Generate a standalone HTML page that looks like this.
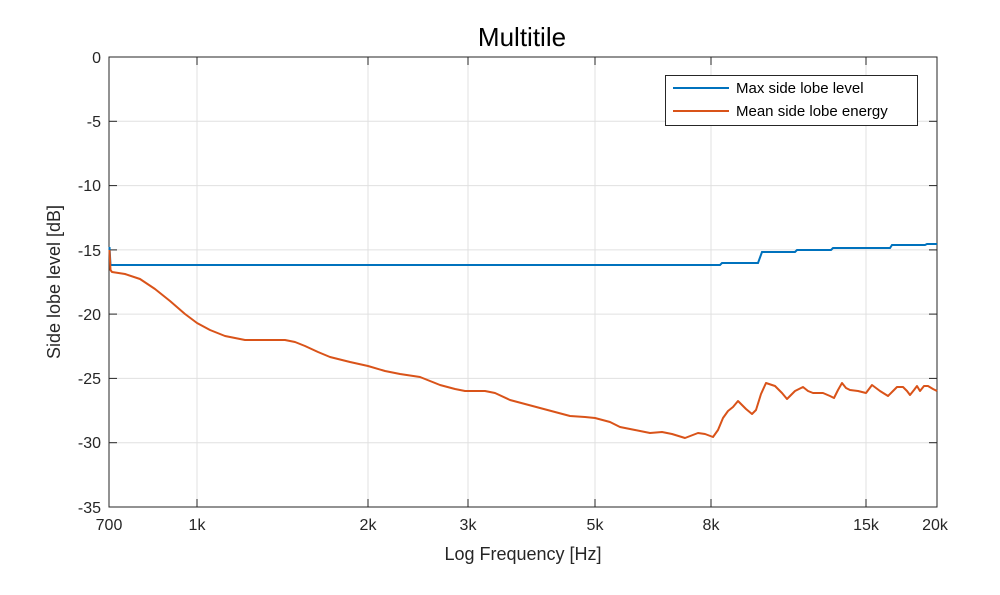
<!DOCTYPE html>
<html><head><meta charset="utf-8"><style>
body{margin:0;background:#fff;}
svg{display:block;font-family:"Liberation Sans",sans-serif;}
</style></head><body>
<svg width="1000" height="595" viewBox="0 0 1000 595">
<rect width="1000" height="595" fill="#fff"/>
<g stroke="#e0e0e0" stroke-width="1">
<line x1="197" y1="57" x2="197" y2="507"/><line x1="368" y1="57" x2="368" y2="507"/>
<line x1="468" y1="57" x2="468" y2="507"/><line x1="595" y1="57" x2="595" y2="507"/>
<line x1="711" y1="57" x2="711" y2="507"/><line x1="866" y1="57" x2="866" y2="507"/>
<line x1="109" y1="121.3" x2="937" y2="121.3"/><line x1="109" y1="185.6" x2="937" y2="185.6"/>
<line x1="109" y1="249.9" x2="937" y2="249.9"/><line x1="109" y1="314.1" x2="937" y2="314.1"/>
<line x1="109" y1="378.4" x2="937" y2="378.4"/><line x1="109" y1="442.7" x2="937" y2="442.7"/>
</g>
<rect x="109" y="57" width="828" height="450" fill="none" stroke="#262626" stroke-width="1"/>
<g stroke="#262626" stroke-width="1">
<line x1="197" y1="507" x2="197" y2="499"/><line x1="368" y1="507" x2="368" y2="499"/><line x1="468" y1="507" x2="468" y2="499"/><line x1="595" y1="507" x2="595" y2="499"/><line x1="711" y1="507" x2="711" y2="499"/><line x1="866" y1="507" x2="866" y2="499"/>
<line x1="197" y1="57" x2="197" y2="65"/><line x1="368" y1="57" x2="368" y2="65"/><line x1="468" y1="57" x2="468" y2="65"/><line x1="595" y1="57" x2="595" y2="65"/><line x1="711" y1="57" x2="711" y2="65"/><line x1="866" y1="57" x2="866" y2="65"/>
<line x1="109" y1="121.3" x2="117" y2="121.3"/><line x1="109" y1="185.6" x2="117" y2="185.6"/><line x1="109" y1="249.9" x2="117" y2="249.9"/><line x1="109" y1="314.1" x2="117" y2="314.1"/><line x1="109" y1="378.4" x2="117" y2="378.4"/><line x1="109" y1="442.7" x2="117" y2="442.7"/>
<line x1="937" y1="121.3" x2="929" y2="121.3"/><line x1="937" y1="185.6" x2="929" y2="185.6"/><line x1="937" y1="249.9" x2="929" y2="249.9"/><line x1="937" y1="314.1" x2="929" y2="314.1"/><line x1="937" y1="378.4" x2="929" y2="378.4"/><line x1="937" y1="442.7" x2="929" y2="442.7"/>
</g>
<g font-size="16" fill="#262626" text-anchor="end">
<text x="101" y="63">0</text><text x="101" y="127">-5</text><text x="101" y="191">-10</text><text x="101" y="256">-15</text><text x="101" y="320">-20</text><text x="101" y="384">-25</text><text x="101" y="448">-30</text><text x="101" y="513">-35</text>
</g>
<g font-size="16" fill="#262626" text-anchor="middle">
<text x="109" y="530">700</text><text x="197" y="530">1k</text><text x="368" y="530">2k</text><text x="468" y="530">3k</text><text x="595" y="530">5k</text><text x="711" y="530">8k</text><text x="866" y="530">15k</text><text x="935" y="530">20k</text>
</g>
<text x="523" y="560" font-size="18" fill="#262626" text-anchor="middle">Log Frequency [Hz]</text>
<text transform="translate(60,282) rotate(-90)" font-size="18" fill="#262626" text-anchor="middle">Side lobe level [dB]</text>
<text x="522" y="46" font-size="26" fill="#000" text-anchor="middle">Multitile</text>
<polyline fill="none" stroke="#0072BD" stroke-width="2" points="109.5,247 110.5,265 720,265 722,263 758,263 762,252 795,252 797,250 831,250 833,248 890,248 892,245 925,245 927,244 937,244"/>
<polyline fill="none" stroke="#D95319" stroke-width="2" stroke-linejoin="round" points="109.5,250 110.5,270 112,272 125,274 140,279 155,289 170,301 185,314 197,323 210,330 225,336 245,340 270,340 285,340 295,342 305,346 318,352 330,357 350,362 368,366 385,371 400,374 420,377 430,381 440,385 455,389 465,391 485,391 495,393 510,400 525,404 540,408 555,412 570,416 585,417 595,418 610,422 620,427 635,430 650,433 662,432 672,434 685,438 698,433 705,434 713,437 718,430 723,418 728,411 733,407 738,401 746,409 752,414 756,410 761,394 766,383 775,386 782,393 787,399 795,391 803,387 808,391 813,393 823,393 830,396 834,398 838,390 842,383 846,388 850,390 858,391 866,393 872,385 880,391 888,396 893,391 897,387 903,387 907,391 910,395 914,390 917,386 920,391 924,386 928,386 933,389 937,391"/>
<rect x="665.5" y="75.5" width="252" height="50" fill="#fff" stroke="#262626" stroke-width="1"/>
<line x1="673" y1="88" x2="729" y2="88" stroke="#0072BD" stroke-width="2"/>
<line x1="673" y1="111" x2="729" y2="111" stroke="#D95319" stroke-width="2"/>
<g font-size="15" fill="#000"><text x="736" y="93">Max side lobe level</text><text x="736" y="116">Mean side lobe energy</text></g>
</svg>
</body></html>
